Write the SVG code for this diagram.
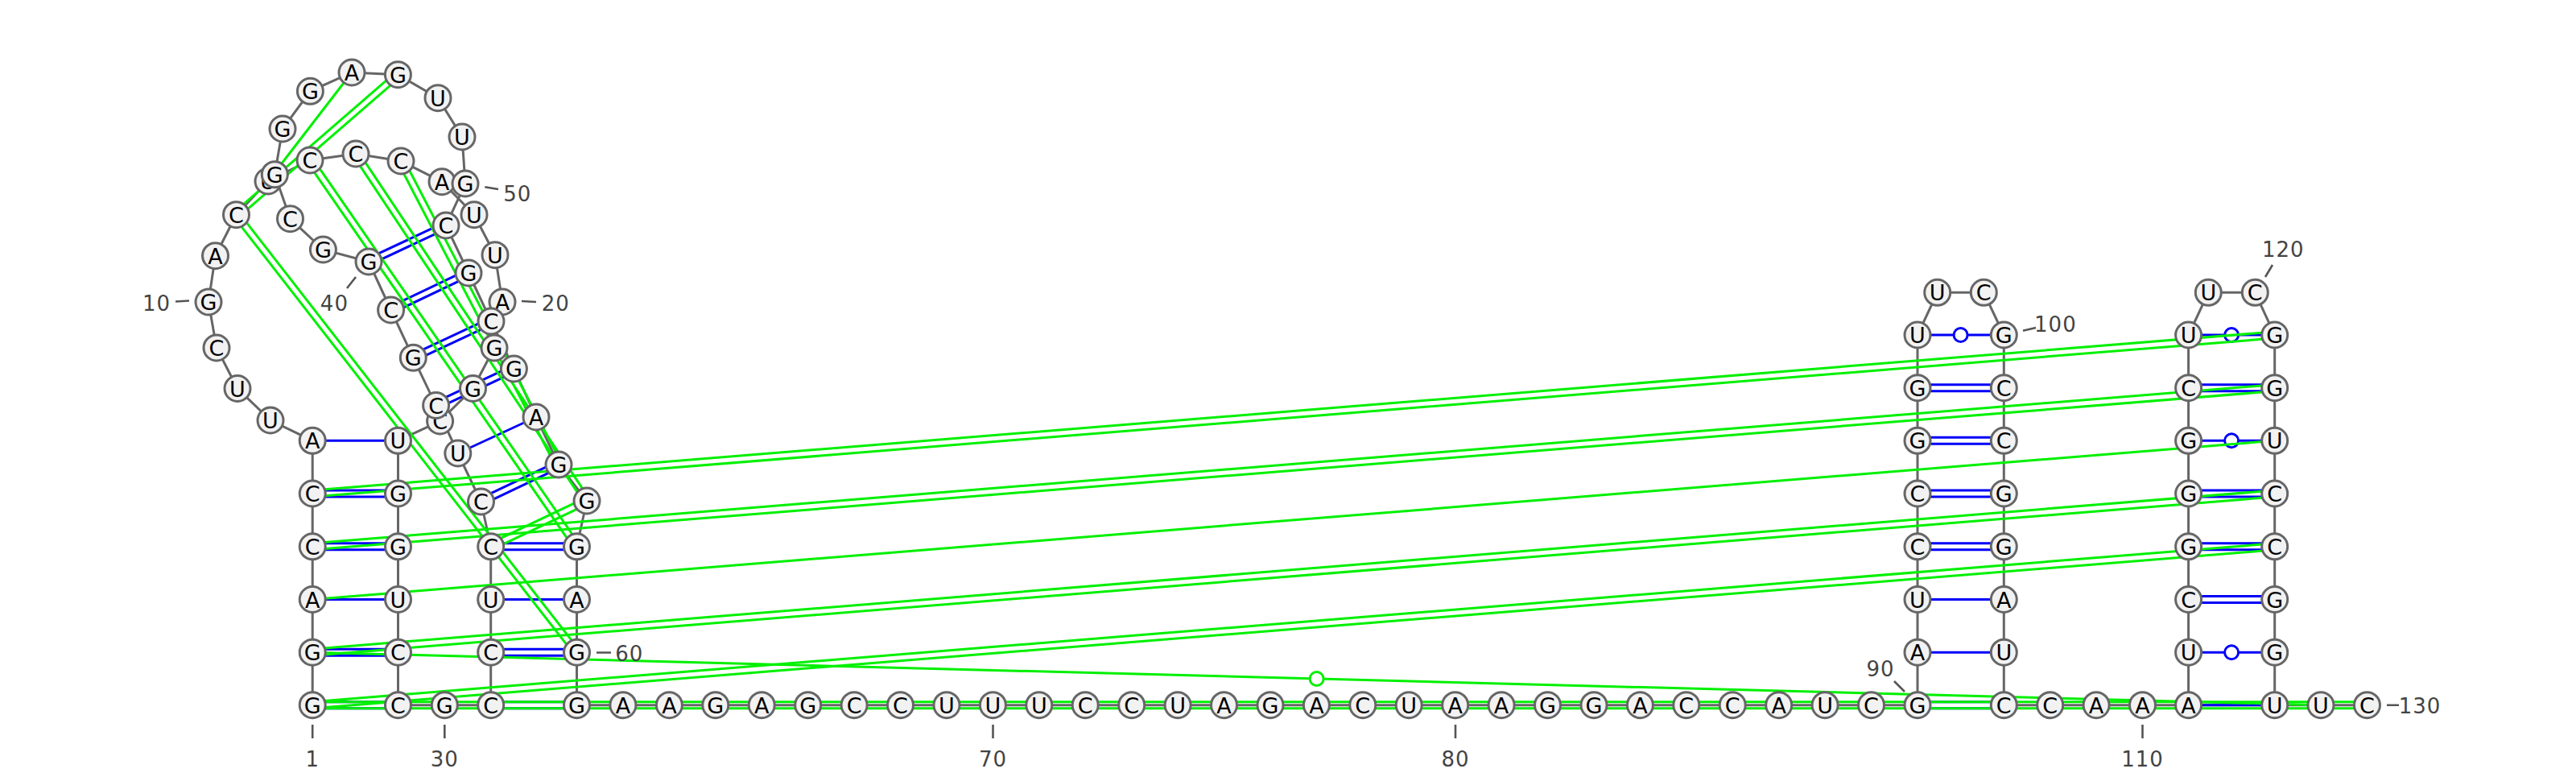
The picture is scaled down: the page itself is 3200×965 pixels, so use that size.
<svg xmlns="http://www.w3.org/2000/svg" width="3200" height="965" viewBox="0 0 3200 965">
<style>
.bb{fill:none;stroke:#666;stroke-width:3}
.b{stroke:#0000f8;stroke-width:3;fill:none}
.g{stroke:#00f000;stroke-width:3;fill:none}
.w{fill:#fff}
circle.n{fill:#f2f2f2;stroke:#666;stroke-width:3}
text.t{font-family:"DejaVu Sans",sans-serif;font-size:27px;text-anchor:middle;fill:#000}
text.l{font-family:"DejaVu Sans",sans-serif;font-size:26px;letter-spacing:1px;text-anchor:middle;fill:#444}
.k{stroke:#555;stroke-width:2.6;fill:none}
</style>
<rect width="3200" height="965" fill="#fff"/>
<g id="connectors">
<polyline id="backbone" class="bb" points="388.2,875.7 388.2,810.2 388.2,744.5 388.2,678.8 388.2,613 388.2,547.3 336,522 295,482.5 269,432 259,375 267.5,317.7 293.5,266.7 333,225 385,199 442,191 498,200 549,225.7 589,266.7 615,316.7 624,375 614,432 587.5,482.5 546.6,523 494.5,547.3 494.5,613 494.5,678.8 494.5,744.5 494.5,810.2 494.5,875.7 552.3,875.7 609.7,875.7 609.7,810.2 609.7,744.5 609.7,678.8 597.5,623 568.8,563 541.6,503.5 513.3,444.3 485.6,385 458,325 401.4,310 360.5,271.7 341.3,216.7 351,160 385.4,113.3 437,90 494.4,92.7 544,121.7 574,170 578,228 554,280 582,339 610,399 638.4,458 666,518 694,577 729,622 716.5,678.8 716.5,744.5 716.5,810.2 716.5,875.7 773.9,875.7 831.4,875.7 2382,875.7 2382,810.2 2382,744.5 2382,678.8 2382,613 2382,547.3 2382,481.7 2382,416 2406.7,363.3 2464.3,363.3 2489.3,416 2489.3,481.7 2489.3,547.3 2489.3,613 2489.3,678.8 2489.3,744.5 2489.3,810.2 2489.3,875.7 2940.5,875.7"/>
<polyline class="bb" points="2718.6,875.7 2718.6,416 2743.3,363.3 2801.3,363.3 2825.7,416 2825.7,875.7"/>
<g id="blue-pairs">
<path class="b" d="M388.2 871.7H494.5M388.2 879.7H494.5M388.2 806.2H494.5M388.2 814.2H494.5M388.2 744.5H494.5M388.2 674.8H494.5M388.2 682.8H494.5M388.2 609H494.5M388.2 617H494.5M388.2 547.3H494.5"/>
<path class="b" d="M609.7 871.7H716.5M609.7 879.7H716.5M609.7 806.2H716.5M609.7 814.2H716.5M609.7 744.5H716.5M609.7 674.8H716.5M609.7 682.8H716.5"/>
<path class="b" d="M595.8 619.4L692.3 573.4M599.2 626.6L695.7 580.6M568.8 563L666 518M539.9 499.9L636.7 454.4M543.3 507.1L640.1 461.6M511.6 440.7L608.3 395.4M515 447.9L611.7 402.6M483.9 381.4L580.3 335.4M487.3 388.6L583.7 342.6M456.3 321.4L552.3 276.4M459.7 328.6L555.7 283.6"/>
<path class="b" d="M2382 871.7H2489.3M2382 879.7H2489.3M2382 810.2H2489.3M2382 744.5H2489.3M2382 674.8H2489.3M2382 682.8H2489.3M2382 609H2489.3M2382 617H2489.3M2382 543.3H2489.3M2382 551.3H2489.3M2382 477.7H2489.3M2382 485.7H2489.3M2382 416H2489.3"/>
<path class="b" d="M2718.6 875.7H2825.7M2718.6 810.2H2825.7M2718.6 740.5H2825.7M2718.6 748.5H2825.7M2718.6 674.8H2825.7M2718.6 682.8H2825.7M2718.6 609H2825.7M2718.6 617H2825.7M2718.6 547.3H2825.7M2718.6 477.7H2825.7M2718.6 485.7H2825.7M2718.6 416H2825.7"/>
<circle class="b w" cx="2435.6" cy="416" r="8.5"/>
<circle class="b w" cx="2772.1" cy="810.2" r="8.5"/>
<circle class="b w" cx="2772.1" cy="547.3" r="8.5"/>
<circle class="b w" cx="2772.1" cy="416" r="8.5"/>
</g>
<g id="green-pairs">
<path class="g" d="M388.2 871.7H2940.5M388.2 879.7H2940.5"/>
<path class="g" d="M387.9 871.7L2825.4 674.8M388.5 879.7L2826 682.8M387.9 806.2L2825.4 609M388.5 814.2L2826 617M388.2 744.5L2825.7 547.3M387.9 674.8L2825.4 477.7M388.5 682.8L2826 485.7M387.9 609L2825.4 412M388.5 617L2826 420"/>
<path class="g" d="M388.2 810.2L2883 875.7"/>
<circle class="g w" cx="1635.6" cy="843" r="8.5"/>
<path class="g" d="M290.9 263.7L491.8 89.7M296.1 269.7L497 95.7M333 225L437 90M296.7 264.2L719.7 807.7M290.3 269.2L713.3 812.7M388.3 196.7L719.8 676.5M381.7 201.3L713.2 681.1M445.3 188.8L732.3 619.8M438.7 193.2L725.7 624.2M501.6 198.2L697.6 575.2M494.4 201.8L690.4 578.8M608 675.2L727.3 618.4M611.4 682.4L730.7 625.6"/>
</g>
</g>
<g id="ticks">
<path class="k" d="M388.2 900V917M552.3 900V917M1233.5 900V917M1808 900V917M2661.5 900V917M218 374.5L235 373.5M648 374L666 375M442 344L431 358M602.3 232.3L619 235M741 810.5H759M2353 846L2366 859M2513 410.7L2529 407M2823 329L2814 344M2965 875.7H2980"/>
</g>
<g id="labels">
<text class="l" x="388.2" y="952">1</text>
<text class="l" x="552.3" y="952">30</text>
<text class="l" x="1233.5" y="952">70</text>
<text class="l" x="1808" y="952">80</text>
<text class="l" x="2661.5" y="952">110</text>
<text class="l" x="194.6" y="385.5">10</text>
<text class="l" x="690.2" y="386">20</text>
<text class="l" x="415.4" y="386">40</text>
<text class="l" x="642.7" y="250">50</text>
<text class="l" x="781.8" y="820.6">60</text>
<text class="l" x="2336" y="840">90</text>
<text class="l" x="2553.4" y="411.7">100</text>
<text class="l" x="2836.3" y="319">120</text>
<text class="l" x="3006" y="885.7">130</text>
</g>
<g id="n1"><circle class="n" cx="388.2" cy="875.7" r="16"/><text class="t" x="388.2" y="885.7">G</text></g>
<g id="n2"><circle class="n" cx="388.2" cy="810.2" r="16"/><text class="t" x="388.2" y="820.2">G</text></g>
<g id="n3"><circle class="n" cx="388.2" cy="744.5" r="16"/><text class="t" x="388.2" y="754.5">A</text></g>
<g id="n4"><circle class="n" cx="388.2" cy="678.8" r="16"/><text class="t" x="388.2" y="688.8">C</text></g>
<g id="n5"><circle class="n" cx="388.2" cy="613" r="16"/><text class="t" x="388.2" y="623">C</text></g>
<g id="n6"><circle class="n" cx="388.2" cy="547.3" r="16"/><text class="t" x="388.2" y="557.3">A</text></g>
<g id="n7"><circle class="n" cx="336" cy="522" r="16"/><text class="t" x="336" y="532">U</text></g>
<g id="n8"><circle class="n" cx="295" cy="482.5" r="16"/><text class="t" x="295" y="492.5">U</text></g>
<g id="n9"><circle class="n" cx="269" cy="432" r="16"/><text class="t" x="269" y="442">C</text></g>
<g id="n10"><circle class="n" cx="259" cy="375" r="16"/><text class="t" x="259" y="385">G</text></g>
<g id="n11"><circle class="n" cx="267.5" cy="317.7" r="16"/><text class="t" x="267.5" y="327.7">A</text></g>
<g id="n12"><circle class="n" cx="293.5" cy="266.7" r="16"/><text class="t" x="293.5" y="276.7">C</text></g>
<g id="n13"><circle class="n" cx="333" cy="225" r="16"/><text class="t" x="333" y="235">U</text></g>
<g id="n14"><circle class="n" cx="385" cy="199" r="16"/><text class="t" x="385" y="209">C</text></g>
<g id="n15"><circle class="n" cx="442" cy="191" r="16"/><text class="t" x="442" y="201">C</text></g>
<g id="n16"><circle class="n" cx="498" cy="200" r="16"/><text class="t" x="498" y="210">C</text></g>
<g id="n17"><circle class="n" cx="549" cy="225.7" r="16"/><text class="t" x="549" y="235.7">A</text></g>
<g id="n18"><circle class="n" cx="589" cy="266.7" r="16"/><text class="t" x="589" y="276.7">U</text></g>
<g id="n19"><circle class="n" cx="615" cy="316.7" r="16"/><text class="t" x="615" y="326.7">U</text></g>
<g id="n20"><circle class="n" cx="624" cy="375" r="16"/><text class="t" x="624" y="385">A</text></g>
<g id="n21"><circle class="n" cx="614" cy="432" r="16"/><text class="t" x="614" y="442">G</text></g>
<g id="n22"><circle class="n" cx="587.5" cy="482.5" r="16"/><text class="t" x="587.5" y="492.5">G</text></g>
<g id="n23"><circle class="n" cx="546.6" cy="523" r="16"/><text class="t" x="546.6" y="533">C</text></g>
<g id="n24"><circle class="n" cx="494.5" cy="547.3" r="16"/><text class="t" x="494.5" y="557.3">U</text></g>
<g id="n25"><circle class="n" cx="494.5" cy="613" r="16"/><text class="t" x="494.5" y="623">G</text></g>
<g id="n26"><circle class="n" cx="494.5" cy="678.8" r="16"/><text class="t" x="494.5" y="688.8">G</text></g>
<g id="n27"><circle class="n" cx="494.5" cy="744.5" r="16"/><text class="t" x="494.5" y="754.5">U</text></g>
<g id="n28"><circle class="n" cx="494.5" cy="810.2" r="16"/><text class="t" x="494.5" y="820.2">C</text></g>
<g id="n29"><circle class="n" cx="494.5" cy="875.7" r="16"/><text class="t" x="494.5" y="885.7">C</text></g>
<g id="n30"><circle class="n" cx="552.3" cy="875.7" r="16"/><text class="t" x="552.3" y="885.7">G</text></g>
<g id="n31"><circle class="n" cx="609.7" cy="875.7" r="16"/><text class="t" x="609.7" y="885.7">C</text></g>
<g id="n32"><circle class="n" cx="609.7" cy="810.2" r="16"/><text class="t" x="609.7" y="820.2">C</text></g>
<g id="n33"><circle class="n" cx="609.7" cy="744.5" r="16"/><text class="t" x="609.7" y="754.5">U</text></g>
<g id="n34"><circle class="n" cx="609.7" cy="678.8" r="16"/><text class="t" x="609.7" y="688.8">C</text></g>
<g id="n35"><circle class="n" cx="597.5" cy="623" r="16"/><text class="t" x="597.5" y="633">C</text></g>
<g id="n36"><circle class="n" cx="568.8" cy="563" r="16"/><text class="t" x="568.8" y="573">U</text></g>
<g id="n37"><circle class="n" cx="541.6" cy="503.5" r="16"/><text class="t" x="541.6" y="513.5">C</text></g>
<g id="n38"><circle class="n" cx="513.3" cy="444.3" r="16"/><text class="t" x="513.3" y="454.3">G</text></g>
<g id="n39"><circle class="n" cx="485.6" cy="385" r="16"/><text class="t" x="485.6" y="395">C</text></g>
<g id="n40"><circle class="n" cx="458" cy="325" r="16"/><text class="t" x="458" y="335">G</text></g>
<g id="n41"><circle class="n" cx="401.4" cy="310" r="16"/><text class="t" x="401.4" y="320">G</text></g>
<g id="n42"><circle class="n" cx="360.5" cy="271.7" r="16"/><text class="t" x="360.5" y="281.7">C</text></g>
<g id="n43"><circle class="n" cx="341.3" cy="216.7" r="16"/><text class="t" x="341.3" y="226.7">G</text></g>
<g id="n44"><circle class="n" cx="351" cy="160" r="16"/><text class="t" x="351" y="170">G</text></g>
<g id="n45"><circle class="n" cx="385.4" cy="113.3" r="16"/><text class="t" x="385.4" y="123.3">G</text></g>
<g id="n46"><circle class="n" cx="437" cy="90" r="16"/><text class="t" x="437" y="100">A</text></g>
<g id="n47"><circle class="n" cx="494.4" cy="92.7" r="16"/><text class="t" x="494.4" y="102.7">G</text></g>
<g id="n48"><circle class="n" cx="544" cy="121.7" r="16"/><text class="t" x="544" y="131.7">U</text></g>
<g id="n49"><circle class="n" cx="574" cy="170" r="16"/><text class="t" x="574" y="180">U</text></g>
<g id="n50"><circle class="n" cx="578" cy="228" r="16"/><text class="t" x="578" y="238">G</text></g>
<g id="n51"><circle class="n" cx="554" cy="280" r="16"/><text class="t" x="554" y="290">C</text></g>
<g id="n52"><circle class="n" cx="582" cy="339" r="16"/><text class="t" x="582" y="349">G</text></g>
<g id="n53"><circle class="n" cx="610" cy="399" r="16"/><text class="t" x="610" y="409">C</text></g>
<g id="n54"><circle class="n" cx="638.4" cy="458" r="16"/><text class="t" x="638.4" y="468">G</text></g>
<g id="n55"><circle class="n" cx="666" cy="518" r="16"/><text class="t" x="666" y="528">A</text></g>
<g id="n56"><circle class="n" cx="694" cy="577" r="16"/><text class="t" x="694" y="587">G</text></g>
<g id="n57"><circle class="n" cx="729" cy="622" r="16"/><text class="t" x="729" y="632">G</text></g>
<g id="n58"><circle class="n" cx="716.5" cy="678.8" r="16"/><text class="t" x="716.5" y="688.8">G</text></g>
<g id="n59"><circle class="n" cx="716.5" cy="744.5" r="16"/><text class="t" x="716.5" y="754.5">A</text></g>
<g id="n60"><circle class="n" cx="716.5" cy="810.2" r="16"/><text class="t" x="716.5" y="820.2">G</text></g>
<g id="n61"><circle class="n" cx="716.5" cy="875.7" r="16"/><text class="t" x="716.5" y="885.7">G</text></g>
<g id="n62"><circle class="n" cx="773.9" cy="875.7" r="16"/><text class="t" x="773.9" y="885.7">A</text></g>
<g id="n63"><circle class="n" cx="831.4" cy="875.7" r="16"/><text class="t" x="831.4" y="885.7">A</text></g>
<g id="n64"><circle class="n" cx="888.8" cy="875.7" r="16"/><text class="t" x="888.8" y="885.7">G</text></g>
<g id="n65"><circle class="n" cx="946.2" cy="875.7" r="16"/><text class="t" x="946.2" y="885.7">A</text></g>
<g id="n66"><circle class="n" cx="1003.7" cy="875.7" r="16"/><text class="t" x="1003.7" y="885.7">G</text></g>
<g id="n67"><circle class="n" cx="1061.1" cy="875.7" r="16"/><text class="t" x="1061.1" y="885.7">C</text></g>
<g id="n68"><circle class="n" cx="1118.5" cy="875.7" r="16"/><text class="t" x="1118.5" y="885.7">C</text></g>
<g id="n69"><circle class="n" cx="1176" cy="875.7" r="16"/><text class="t" x="1176" y="885.7">U</text></g>
<g id="n70"><circle class="n" cx="1233.4" cy="875.7" r="16"/><text class="t" x="1233.4" y="885.7">U</text></g>
<g id="n71"><circle class="n" cx="1290.8" cy="875.7" r="16"/><text class="t" x="1290.8" y="885.7">U</text></g>
<g id="n72"><circle class="n" cx="1348.2" cy="875.7" r="16"/><text class="t" x="1348.2" y="885.7">C</text></g>
<g id="n73"><circle class="n" cx="1405.7" cy="875.7" r="16"/><text class="t" x="1405.7" y="885.7">C</text></g>
<g id="n74"><circle class="n" cx="1463.1" cy="875.7" r="16"/><text class="t" x="1463.1" y="885.7">U</text></g>
<g id="n75"><circle class="n" cx="1520.5" cy="875.7" r="16"/><text class="t" x="1520.5" y="885.7">A</text></g>
<g id="n76"><circle class="n" cx="1578" cy="875.7" r="16"/><text class="t" x="1578" y="885.7">G</text></g>
<g id="n77"><circle class="n" cx="1635.4" cy="875.7" r="16"/><text class="t" x="1635.4" y="885.7">A</text></g>
<g id="n78"><circle class="n" cx="1692.8" cy="875.7" r="16"/><text class="t" x="1692.8" y="885.7">C</text></g>
<g id="n79"><circle class="n" cx="1750.2" cy="875.7" r="16"/><text class="t" x="1750.2" y="885.7">U</text></g>
<g id="n80"><circle class="n" cx="1807.7" cy="875.7" r="16"/><text class="t" x="1807.7" y="885.7">A</text></g>
<g id="n81"><circle class="n" cx="1865.1" cy="875.7" r="16"/><text class="t" x="1865.1" y="885.7">A</text></g>
<g id="n82"><circle class="n" cx="1922.5" cy="875.7" r="16"/><text class="t" x="1922.5" y="885.7">G</text></g>
<g id="n83"><circle class="n" cx="1980" cy="875.7" r="16"/><text class="t" x="1980" y="885.7">G</text></g>
<g id="n84"><circle class="n" cx="2037.4" cy="875.7" r="16"/><text class="t" x="2037.4" y="885.7">A</text></g>
<g id="n85"><circle class="n" cx="2094.8" cy="875.7" r="16"/><text class="t" x="2094.8" y="885.7">C</text></g>
<g id="n86"><circle class="n" cx="2152.2" cy="875.7" r="16"/><text class="t" x="2152.2" y="885.7">C</text></g>
<g id="n87"><circle class="n" cx="2209.7" cy="875.7" r="16"/><text class="t" x="2209.7" y="885.7">A</text></g>
<g id="n88"><circle class="n" cx="2267.1" cy="875.7" r="16"/><text class="t" x="2267.1" y="885.7">U</text></g>
<g id="n89"><circle class="n" cx="2324.5" cy="875.7" r="16"/><text class="t" x="2324.5" y="885.7">C</text></g>
<g id="n90"><circle class="n" cx="2382" cy="875.7" r="16"/><text class="t" x="2382" y="885.7">G</text></g>
<g id="n91"><circle class="n" cx="2382" cy="810.2" r="16"/><text class="t" x="2382" y="820.2">A</text></g>
<g id="n92"><circle class="n" cx="2382" cy="744.5" r="16"/><text class="t" x="2382" y="754.5">U</text></g>
<g id="n93"><circle class="n" cx="2382" cy="678.8" r="16"/><text class="t" x="2382" y="688.8">C</text></g>
<g id="n94"><circle class="n" cx="2382" cy="613" r="16"/><text class="t" x="2382" y="623">C</text></g>
<g id="n95"><circle class="n" cx="2382" cy="547.3" r="16"/><text class="t" x="2382" y="557.3">G</text></g>
<g id="n96"><circle class="n" cx="2382" cy="481.7" r="16"/><text class="t" x="2382" y="491.7">G</text></g>
<g id="n97"><circle class="n" cx="2382" cy="416" r="16"/><text class="t" x="2382" y="426">U</text></g>
<g id="n98"><circle class="n" cx="2406.7" cy="363.3" r="16"/><text class="t" x="2406.7" y="373.3">U</text></g>
<g id="n99"><circle class="n" cx="2464.3" cy="363.3" r="16"/><text class="t" x="2464.3" y="373.3">C</text></g>
<g id="n100"><circle class="n" cx="2489.3" cy="416" r="16"/><text class="t" x="2489.3" y="426">G</text></g>
<g id="n101"><circle class="n" cx="2489.3" cy="481.7" r="16"/><text class="t" x="2489.3" y="491.7">C</text></g>
<g id="n102"><circle class="n" cx="2489.3" cy="547.3" r="16"/><text class="t" x="2489.3" y="557.3">C</text></g>
<g id="n103"><circle class="n" cx="2489.3" cy="613" r="16"/><text class="t" x="2489.3" y="623">G</text></g>
<g id="n104"><circle class="n" cx="2489.3" cy="678.8" r="16"/><text class="t" x="2489.3" y="688.8">G</text></g>
<g id="n105"><circle class="n" cx="2489.3" cy="744.5" r="16"/><text class="t" x="2489.3" y="754.5">A</text></g>
<g id="n106"><circle class="n" cx="2489.3" cy="810.2" r="16"/><text class="t" x="2489.3" y="820.2">U</text></g>
<g id="n107"><circle class="n" cx="2489.3" cy="875.7" r="16"/><text class="t" x="2489.3" y="885.7">C</text></g>
<g id="n108"><circle class="n" cx="2546.7" cy="875.7" r="16"/><text class="t" x="2546.7" y="885.7">C</text></g>
<g id="n109"><circle class="n" cx="2604.1" cy="875.7" r="16"/><text class="t" x="2604.1" y="885.7">A</text></g>
<g id="n110"><circle class="n" cx="2661.5" cy="875.7" r="16"/><text class="t" x="2661.5" y="885.7">A</text></g>
<g id="n111"><circle class="n" cx="2718.6" cy="875.7" r="16"/><text class="t" x="2718.6" y="885.7">A</text></g>
<g id="n112"><circle class="n" cx="2718.6" cy="810.2" r="16"/><text class="t" x="2718.6" y="820.2">U</text></g>
<g id="n113"><circle class="n" cx="2718.6" cy="744.5" r="16"/><text class="t" x="2718.6" y="754.5">C</text></g>
<g id="n114"><circle class="n" cx="2718.6" cy="678.8" r="16"/><text class="t" x="2718.6" y="688.8">G</text></g>
<g id="n115"><circle class="n" cx="2718.6" cy="613" r="16"/><text class="t" x="2718.6" y="623">G</text></g>
<g id="n116"><circle class="n" cx="2718.6" cy="547.3" r="16"/><text class="t" x="2718.6" y="557.3">G</text></g>
<g id="n117"><circle class="n" cx="2718.6" cy="481.7" r="16"/><text class="t" x="2718.6" y="491.7">C</text></g>
<g id="n118"><circle class="n" cx="2718.6" cy="416" r="16"/><text class="t" x="2718.6" y="426">U</text></g>
<g id="n119"><circle class="n" cx="2743.3" cy="363.3" r="16"/><text class="t" x="2743.3" y="373.3">U</text></g>
<g id="n120"><circle class="n" cx="2801.3" cy="363.3" r="16"/><text class="t" x="2801.3" y="373.3">C</text></g>
<g id="n121"><circle class="n" cx="2825.7" cy="416" r="16"/><text class="t" x="2825.7" y="426">G</text></g>
<g id="n122"><circle class="n" cx="2825.7" cy="481.7" r="16"/><text class="t" x="2825.7" y="491.7">G</text></g>
<g id="n123"><circle class="n" cx="2825.7" cy="547.3" r="16"/><text class="t" x="2825.7" y="557.3">U</text></g>
<g id="n124"><circle class="n" cx="2825.7" cy="613" r="16"/><text class="t" x="2825.7" y="623">C</text></g>
<g id="n125"><circle class="n" cx="2825.7" cy="678.8" r="16"/><text class="t" x="2825.7" y="688.8">C</text></g>
<g id="n126"><circle class="n" cx="2825.7" cy="744.5" r="16"/><text class="t" x="2825.7" y="754.5">G</text></g>
<g id="n127"><circle class="n" cx="2825.7" cy="810.2" r="16"/><text class="t" x="2825.7" y="820.2">G</text></g>
<g id="n128"><circle class="n" cx="2825.7" cy="875.7" r="16"/><text class="t" x="2825.7" y="885.7">U</text></g>
<g id="n129"><circle class="n" cx="2883" cy="875.7" r="16"/><text class="t" x="2883" y="885.7">U</text></g>
<g id="n130"><circle class="n" cx="2940.5" cy="875.7" r="16"/><text class="t" x="2940.5" y="885.7">C</text></g>
</svg>
